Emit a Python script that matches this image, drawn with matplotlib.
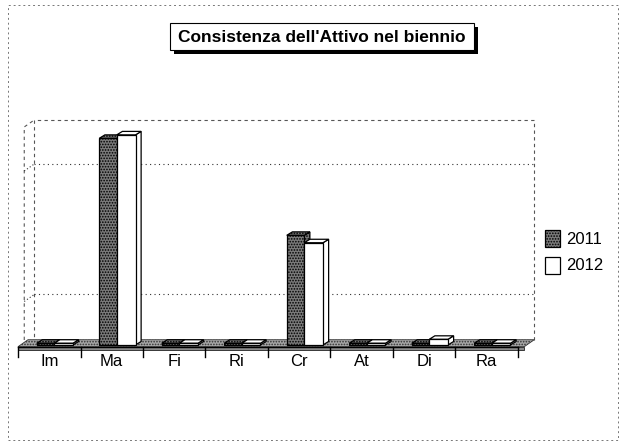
import matplotlib
matplotlib.use("Agg")
import matplotlib.pyplot as plt
from matplotlib.patches import Polygon, Rectangle

plt.rcParams['font.family'] = ['Liberation Sans', 'DejaVu Sans']
plt.rcParams['hatch.linewidth'] = 0.8

# dati
categorie = ['Im', 'Ma', 'Fi', 'Ri', 'Cr', 'At', 'Di', 'Ra']
anni = ['2011', '2012']
val_2011 = [40, 4750, 40, 40, 2520, 40, 40, 40]
val_2012 = [40, 4830, 40, 40, 2350, 40, 130, 40]
griglia = [1000, 4000]

fig = plt.figure(figsize=(6.24, 4.46), dpi=100)
ax = fig.add_axes([10/624, 1 - 358/446, 530/624, 244/446])
ax.set_xlim(-0.128, 8.352)
ax.set_ylim(-300, 5310)
ax.axis('off')

# profondita 3d (in unita dati)
wdx, wdy = 0.16, 160     # pareti
bdx, bdy = 0.09, 80      # barre
ytop = 5172

# parete di fondo e laterale
ax.add_patch(Rectangle((0.1 + wdx, -40 + wdy), 8.0, ytop - wdy + 40, fill=False,
                       ls=(0, (3, 3)), lw=0.8, ec='#555555', zorder=1))
ax.plot([0.1, 0.1, 0.1 + wdx], [-40, ytop - wdy, ytop], ls=(0, (3, 3)), lw=0.8,
        color='#555555', zorder=1)
for g in griglia:
    ax.plot([0.1 + wdx, 8.1 + wdx], [g + wdy, g + wdy], ls=(0, (1, 3)), lw=0.8,
            color='#333333', zorder=1)
    ax.plot([0.1, 0.1 + wdx], [g, g + wdy], ls=(0, (1, 2)), lw=0.8,
            color='#333333', zorder=1)

# pavimento
ax.add_patch(Polygon([(0, -40), (8.1, -40), (8.1 + wdx, -40 + wdy), (0 + wdx, -40 + wdy)],
                     closed=True, fc='#a8a8a8', ec='#333333', hatch='......', lw=0.6, zorder=2))
ax.add_patch(Rectangle((0, -120), 8.1, 80, fc='#8a8a8a', ec='#222222', lw=0.6, zorder=2))


def barra3d(x0, w, h, fc, hatch):
    z = 3 + x0 * 0.01
    ax.bar(x0, h, width=w, bottom=0, align='edge', color=fc, edgecolor='black',
           hatch=hatch, linewidth=0.9, zorder=z + 0.002)
    ax.add_patch(Polygon([(x0 + w, 0), (x0 + w + bdx, bdy), (x0 + w + bdx, h + bdy), (x0 + w, h)],
                         closed=True, fc=fc, ec='black', hatch=hatch, lw=0.9, zorder=z))
    ax.add_patch(Polygon([(x0, h), (x0 + w, h), (x0 + w + bdx, h + bdy), (x0 + bdx, h + bdy)],
                         closed=True, fc=fc, ec='black', hatch=hatch, lw=0.9, zorder=z))


for i in range(len(categorie)):
    barra3d(i + 0.30, 0.28, val_2011[i], '#7a7a7a', '......')
    barra3d(i + 0.58, 0.30, val_2012[i], 'white', None)

# asse categorie
ax.plot([0, 8], [-46, -46], color='black', lw=1.0, zorder=6, clip_on=False)
for i in range(len(categorie) + 1):
    ax.plot([i, i], [-46, -276], color='black', lw=1.0, zorder=6, clip_on=False)
for i, c in enumerate(categorie):
    ax.text(i + 0.5, -390, c, ha='center', va='center', fontsize=12, clip_on=False)

# legenda
fig.patches.append(Rectangle((545/624, 1 - 247/446), 15/624, 17/446, transform=fig.transFigure,
                             fc='#7a7a7a', ec='black', hatch='......', lw=0.9))
fig.patches.append(Rectangle((545/624, 1 - 274/446), 15/624, 17/446, transform=fig.transFigure,
                             fc='white', ec='black', lw=0.9))
fig.text(566/624, 1 - 239/446, anni[0], fontsize=12, va='center')
fig.text(566/624, 1 - 266/446, anni[1], fontsize=12, va='center')

# titolo: riquadro con ombra
fig.patches.append(Rectangle((174/624, 1 - 54/446), 304/624, 27/446, transform=fig.transFigure,
                             fc='black', ec='black', lw=0))
fig.patches.append(Rectangle((170/624, 1 - 50/446), 304/624, 27/446, transform=fig.transFigure,
                             fc='white', ec='black', lw=0.8))
fig.text(322/624, 1 - 37/446, "Consistenza dell'Attivo nel biennio", fontsize=12.5,
         fontweight='bold', ha='center', va='center', color='black')

# cornice tratteggiata dell'area grafico
fig.patches.append(Rectangle((8/624, 1 - 440/446), 610/624, 435/446, transform=fig.transFigure,
                             fill=False, ls=(0, (2, 3)), lw=0.7, ec='#777777'))

fig.savefig('out.png', dpi=100)
